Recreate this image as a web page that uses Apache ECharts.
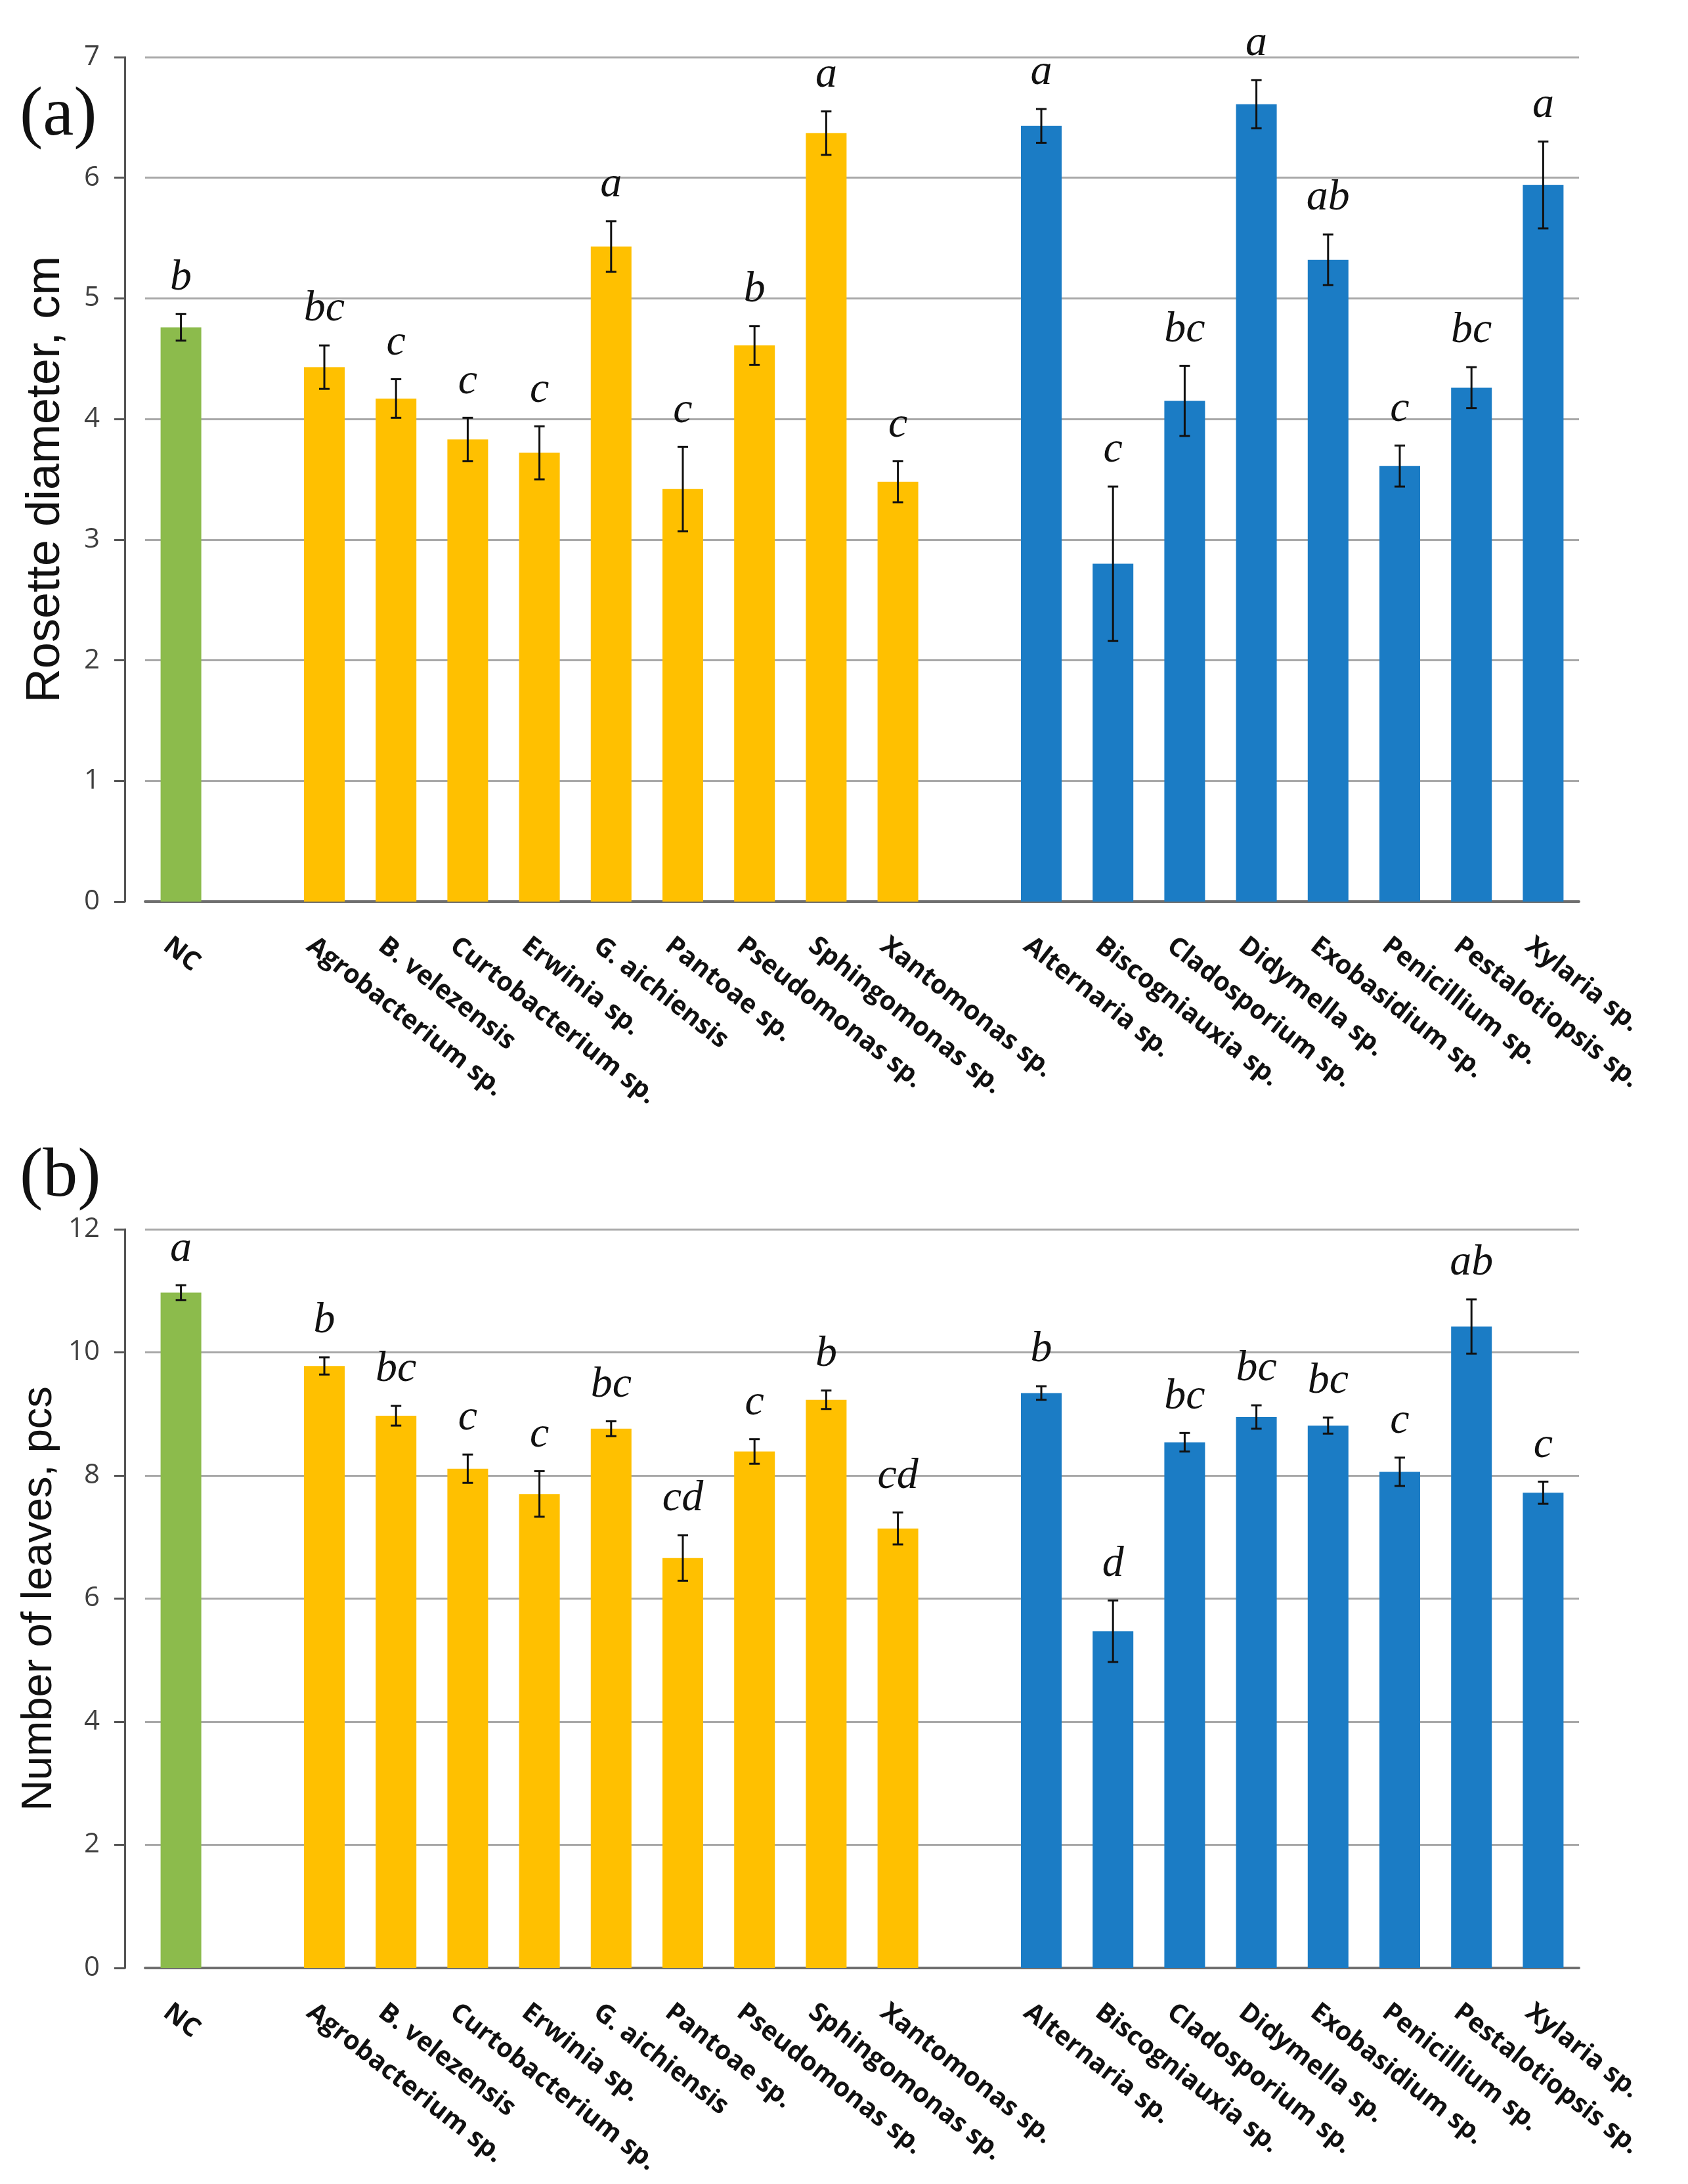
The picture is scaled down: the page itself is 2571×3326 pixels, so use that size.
<!DOCTYPE html>
<html>
<head>
<meta charset="utf-8">
<title>Rosette diameter and number of leaves</title>
<script src="https://cdn.jsdelivr.net/npm/echarts@6/dist/echarts.min.js"></script>
<style>
  html, body { margin: 0; padding: 0; background: #fff; }
  #chart { width: 2571px; height: 3326px; }
</style>
</head>
<body>
<div id="chart"></div>
<script>
// 处理组
var controlNames = ['NC'];
var bacteriaNames = ['Agrobacterium sp.', 'B. velezensis', 'Curtobacterium sp.', 'Erwinia sp.', 'G. aichiensis',
    'Pantoae sp.', 'Pseudomonas sp.', 'Sphingomonas sp.', 'Xantomonas sp.'];
var fungiNames = ['Alternaria sp.', 'Biscogniauxia sp.', 'Cladosporium sp.', 'Didymella sp.', 'Exobasidium sp.',
    'Penicillium sp.', 'Pestalotiopsis sp.', 'Xylaria sp.'];

// (a) 莲座直径
var diamMean = [4.76, 4.43, 4.17, 3.83, 3.72, 5.43, 3.42, 4.61, 6.37, 3.48, 6.43, 2.80, 4.15, 6.61, 5.32, 3.61, 4.26, 5.94];
var diamErr = [0.11, 0.18, 0.16, 0.18, 0.22, 0.21, 0.35, 0.16, 0.18, 0.17, 0.14, 0.64, 0.29, 0.20, 0.21, 0.17, 0.17, 0.36];
var diamLetters = ['b', 'bc', 'c', 'c', 'c', 'a', 'c', 'b', 'a', 'c', 'a', 'c', 'bc', 'a', 'ab', 'c', 'bc', 'a'];
var diamTicks = [0, 7, 1];

// (b) 叶片数
var leafMean = [10.97, 9.78, 8.97, 8.11, 7.70, 8.76, 6.66, 8.39, 9.23, 7.14, 9.34, 5.47, 8.54, 8.95, 8.81, 8.06, 10.42, 7.72];
var leafErr = [0.12, 0.14, 0.16, 0.23, 0.37, 0.12, 0.37, 0.20, 0.15, 0.26, 0.11, 0.50, 0.15, 0.19, 0.13, 0.23, 0.44, 0.18];
var leafLetters = ['a', 'b', 'bc', 'c', 'c', 'bc', 'cd', 'c', 'b', 'cd', 'b', 'd', 'bc', 'bc', 'bc', 'c', 'ab', 'c'];
var leafTicks = [0, 12, 2];

// 类别轴：组之间空一格
var categories = controlNames.concat([''], bacteriaNames, [''], fungiNames);
var strains = controlNames.concat(bacteriaNames, fungiNames);
var catIndex = strains.map(function (name) { return categories.indexOf(name); });

var colorGreen = '#8cbb4c', colorYellow = '#ffc000', colorBlue = '#1b7cc5';
function barColor(name) {
    if (controlNames.indexOf(name) >= 0) return colorGreen;
    if (bacteriaNames.indexOf(name) >= 0) return colorYellow;
    return colorBlue;
}

function barData(means) {
    return categories.map(function (c) {
        var k = strains.indexOf(c);
        return k < 0 ? '-' : means[k];
    });
}

function errData(means, errs) {
    return strains.map(function (s, k) {
        return [catIndex[k], means[k] - errs[k], means[k] + errs[k]];
    });
}

// 误差线 + 显著性字母
function makeErrRender(letters) {
    return function (params, api) {
        var x = api.coord([api.value(0), 0])[0];
        var lo = api.coord([api.value(0), api.value(1)])[1];
        var hi = api.coord([api.value(0), api.value(2)])[1];
        var cap = 8;
        var ls = { stroke: '#111', lineWidth: 3 };
        return {
            type: 'group',
            children: [
                { type: 'line', shape: { x1: x, y1: lo, x2: x, y2: hi }, style: ls },
                { type: 'line', shape: { x1: x - cap, y1: hi, x2: x + cap, y2: hi }, style: ls },
                { type: 'line', shape: { x1: x - cap, y1: lo, x2: x + cap, y2: lo }, style: ls },
                {
                    type: 'text', x: x, y: hi - 22,
                    style: {
                        text: letters[params.dataIndex], align: 'center', verticalAlign: 'bottom',
                        fontFamily: '"Liberation Serif", "DejaVu Serif", serif', fontStyle: 'italic',
                        fontSize: 66, fill: '#111'
                    }
                }
            ]
        };
    };
}

var myChart = echarts.init(document.getElementById('chart'), null, { renderer: 'canvas' });

function xAxisOpt(gridIndex) {
    return {
        type: 'category', gridIndex: gridIndex, data: categories,
        axisLine: { lineStyle: { color: '#6e6e6e', width: 4 } },
        axisTick: { show: false },
        axisLabel: {
            interval: 0, rotate: -38, margin: 80, padding: [0, 0, 0, -28],
            fontFamily: '"Open Sans", "Liberation Sans", sans-serif',
            fontSize: 40, fontWeight: 'bold', color: '#111'
        }
    };
}

function yAxisOpt(gridIndex, ticks, name, nameSize) {
    return {
        type: 'value', gridIndex: gridIndex, min: ticks[0], max: ticks[1], interval: ticks[2],
        offset: 31,
        name: name, nameLocation: 'middle', nameGap: 84, nameRotate: 90,
        nameTextStyle: { fontFamily: '"Liberation Sans", Arial, sans-serif', fontSize: nameSize, color: '#111' },
        axisLine: { show: true, lineStyle: { color: '#555', width: 3 } },
        axisTick: { show: true, length: 16, lineStyle: { color: '#555', width: 3 } },
        axisLabel: { margin: 38, fontFamily: '"Open Sans", sans-serif', fontSize: 42, color: '#404040' },
        splitLine: { lineStyle: { color: '#a8a8a8', width: 3 } }
    };
}

var option = {
    backgroundColor: '#fff',
    animation: false,
    grid: [
        { left: 221, right: 166, top: 87, bottom: 1953 },
        { left: 221, right: 166, top: 1872, bottom: 329 }
    ],
    xAxis: [xAxisOpt(0), xAxisOpt(1)],
    yAxis: [
        yAxisOpt(0, diamTicks, 'Rosette diameter, cm', 72),
        yAxisOpt(1, leafTicks, 'Number of leaves, pcs', 65)
    ],
    graphic: [
        { type: 'text', left: 30, top: 124, style: { text: '(a)', fontFamily: '"Liberation Serif", serif', fontSize: 106, fill: '#111' } },
        { type: 'text', left: 30, top: 1740, style: { text: '(b)', fontFamily: '"Liberation Serif", serif', fontSize: 106, fill: '#111' } }
    ],
    series: [
        {
            type: 'bar', xAxisIndex: 0, yAxisIndex: 0, barWidth: 62,
            data: barData(diamMean),
            itemStyle: { color: function (p) { return barColor(p.name); } }
        },
        {
            type: 'custom', xAxisIndex: 0, yAxisIndex: 0, z: 5,
            data: errData(diamMean, diamErr),
            renderItem: makeErrRender(diamLetters)
        },
        {
            type: 'bar', xAxisIndex: 1, yAxisIndex: 1, barWidth: 62,
            data: barData(leafMean),
            itemStyle: { color: function (p) { return barColor(p.name); } }
        },
        {
            type: 'custom', xAxisIndex: 1, yAxisIndex: 1, z: 5,
            data: errData(leafMean, leafErr),
            renderItem: makeErrRender(leafLetters)
        }
    ]
};
myChart.setOption(option);
</script>
</body>
</html>
